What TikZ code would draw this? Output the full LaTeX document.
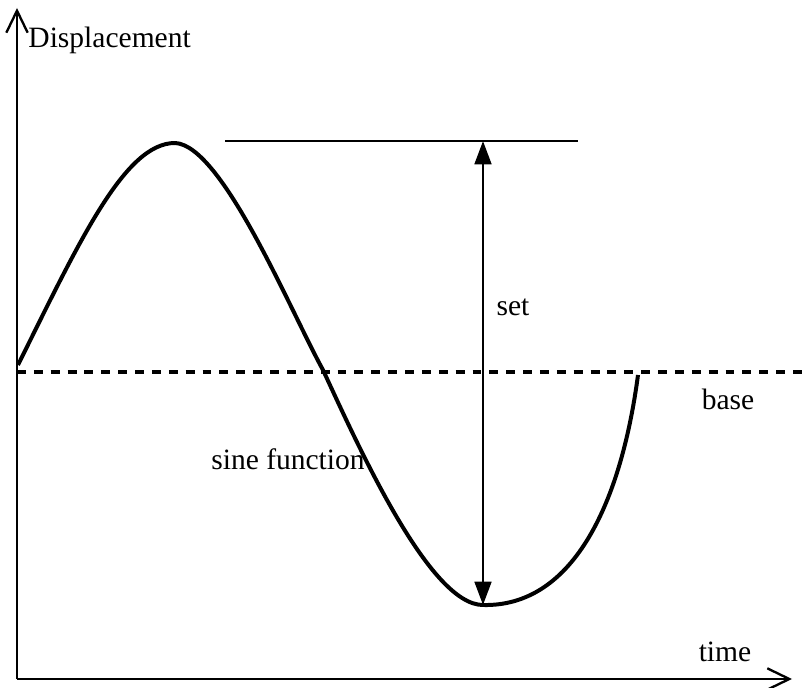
\documentclass[tikz,border=0pt]{standalone}
\usepackage{fontspec}
\setmainfont{Liberation Serif}
\usetikzlibrary{arrows.meta, positioning}

\begin{document}
\begin{tikzpicture}[
    x=0.015cm, y=-0.015cm,
    axis/.style={line width=0.9pt, -{Straight Barb[length=3.3mm, width=3.2mm, line width=1pt]}},
    wave/.style={line width=1.7pt, line join=round},
    baseline/.style={line width=1.7pt, dash pattern=on 3.8pt off 3.4pt},
    span/.style={line width=1.2pt, {Triangle[length=3.5mm, width=2.5mm]}-{Triangle[length=3.5mm, width=2.5mm]}},
    label/.style={font=\fontsize{12.6}{15}\selectfont, inner sep=0pt}
]
\useasboundingbox (0,0) rectangle (809,688);

% axes
\coordinate (origin) at (17,679);
\coordinate (ytip)   at (17,8);
\coordinate (xtip)   at (792,679);
\draw[axis] (origin) -- (ytip);
\draw[axis] (origin) -- (xtip);

\node[label, anchor=west] (ylabel) at (28,40)  {Displacement};
\node[label]              (xlabel) at (725,652) {time};

% base line
\coordinate (base_l) at (17,372);
\coordinate (base_r) at (809,372);
\draw[baseline] (base_l) -- (base_r);
\node[label] (base) at (728,399) {base};

% the wave
\coordinate (w0) at (18,365);
\coordinate (w1) at (175,143);
\coordinate (w2) at (323,370);
\coordinate (w3) at (483,605);
\coordinate (w4) at (638,375);
\draw[wave] (w0) .. controls (80,240) and (125,143) .. (w1)
                 .. controls (222,145) and (290,310) .. (w2)
                 .. controls (360,450) and (430,605) .. (w3)
                 .. controls (570,607) and (620,510) .. (w4);
\node[label] (sine) at (288,459) {sine function};

% set
\coordinate (top_l) at (225,141);
\coordinate (top_r) at (578,141);
\coordinate (peak)  at (483,141);
\coordinate (trough) at (483,605);
\draw[line width=0.9pt] (top_l) -- (top_r);
\draw[span] (peak) -- (trough);
\node[label] (set) at (513,307) {set};

\end{tikzpicture}
\end{document}
